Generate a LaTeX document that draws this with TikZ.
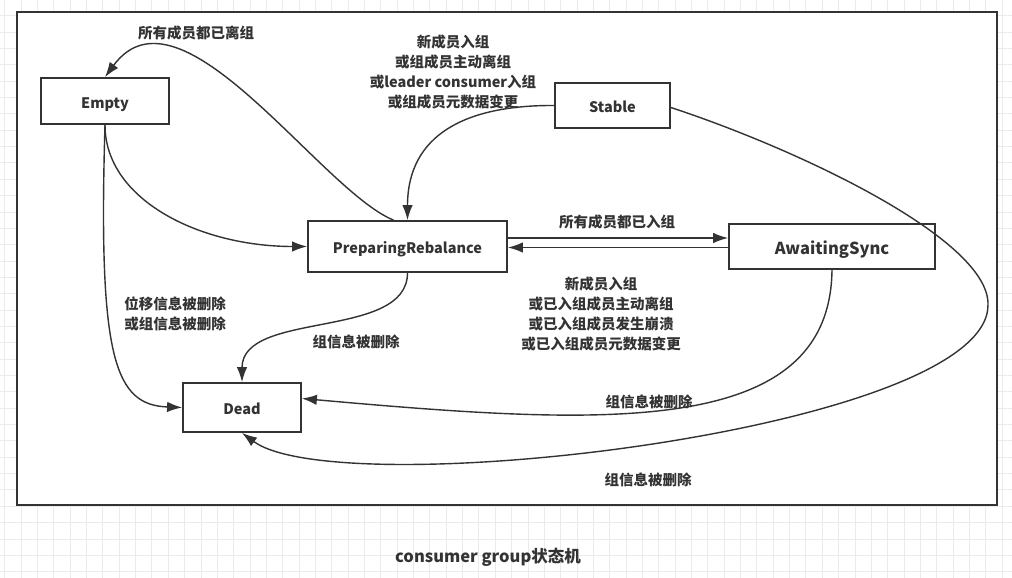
\documentclass[tikz,border=0pt]{standalone}
\usepackage{fontspec}
\setmainfont{Noto Sans CJK SC}
\usetikzlibrary{arrows.meta}
\definecolor{linegray}{HTML}{333333}
\definecolor{gridgray}{HTML}{EBEBEB}

\begin{document}
\begin{tikzpicture}[x=1pt,y=-1pt,
   state/.style={draw=linegray,line width=1.8pt,fill=white,inner sep=0pt,text=linegray,
      text height=14pt,text depth=0pt,font=\fontsize{14.5}{18}\selectfont\bfseries},
   lbl/.style={text=linegray,align=center,font=\fontsize{14.5}{19.7}\selectfont\bfseries},
   trans/.style={draw=linegray,line width=1.4pt,-{Latex[length=15pt,width=10.5pt]}}]
   \useasboundingbox (0,0) rectangle (1012,578);

   % background grid and frame
   \foreach \gx in {0,...,61} \draw[gridgray,line width=0.8pt] ({4.7+16.35*\gx},0) -- ++(0,578);
   \foreach \gy in {0,...,35} \draw[gridgray,line width=0.8pt] (0,{-0.65+16.35*\gy}) -- ++(1012,0);
   \draw[linegray,line width=2.4pt,fill=white] (17,12) rectangle (997,505);

   \draw (105,101) node[state,minimum width=128pt,minimum height=46pt] (empty) {Empty};
   \draw (612.5,105.5) node[state,minimum width=115pt,minimum height=45pt] (stable) {Stable};
   \draw (407.5,246.5) node[state,minimum width=199pt,minimum height=51pt] (prep) {PreparingRebalance};
   \draw (832,246.5) node[state,minimum width=206pt,minimum height=45pt,text height=15pt,
      font=\fontsize{16.5}{20}\selectfont\bfseries] (await) {AwaitingSync};
   \draw (242,407.5) node[state,minimum width=118pt,minimum height=49pt] (dead) {Dead};

   \draw (196,33) node[lbl] (allleft) {所有成员都已离组};
   \draw (453,72) node[lbl] (rejoin) {新成员入组\\或组成员主动离组\\或leader consumer入组\\或组成员元数据变更};
   \draw (617,222) node[lbl] (alljoined) {所有成员都已入组};
   \draw (601,314) node[lbl] (resync) {新成员入组\\或已入组成员主动离组\\或已入组成员发生崩溃\\或已入组成员元数据变更};
   \draw (175,314) node[lbl] (expired) {位移信息被删除\\或组信息被删除};
   \draw (356,342) node[lbl] (delprep) {组信息被删除};
   \draw (649,402) node[lbl] (delawait) {组信息被删除};
   \draw (648,480) node[lbl] (delstable) {组信息被删除};

   \draw[trans] ([xshift=-14pt]prep.north) .. controls (320,190) and (180,-25) .. (empty.north);
   \draw[trans] (stable.west) .. controls (465,105) and (407.5,135) .. (prep.north);
   \draw[trans] (empty.south) .. controls (105,200) and (200,246.5) .. (prep.west);
   \draw[trans] (empty.south) .. controls (98,360) and (115,405) .. (dead.west);
   \draw[trans] (prep.south) .. controls (407.5,340) and (242,310) .. (dead.north);
   \draw[trans] ([yshift=8.5pt]prep.east) -- ([yshift=8.5pt]await.west);
   \draw[trans] ([yshift=-1pt]await.west) -- ([yshift=-1pt]prep.east);
   \draw[trans] (await.south) .. controls (830,440) and (600,425) .. ([yshift=9pt]dead.east);
   \draw[trans] ([yshift=-2pt]stable.east) .. controls (800,150) and (990,240) .. (988,305)
      .. controls (988,430) and (340,505) .. (dead.south);

   \draw (488,557) node[text=linegray,font=\fontsize{16.5}{20}\selectfont\bfseries] (caption) {consumer group状态机};
\end{tikzpicture}
\end{document}
